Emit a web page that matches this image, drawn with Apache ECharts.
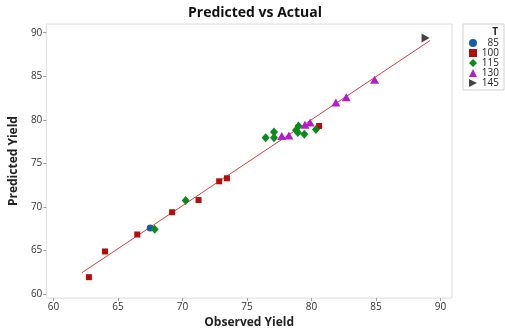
<!DOCTYPE html>
<html>
<head>
<meta charset="utf-8">
<script src="https://cdn.jsdelivr.net/npm/echarts@6/dist/echarts.min.js"></script>
<style>
html, body {margin: 0; padding: 0; background: #fff;}
#chart {width: 505px; height: 334px;}
</style>
</head>
<body>
<div id="chart"></div>
<script>
// groups of T
var groups = ['85', '100', '115', '130', '145'];

var obs85 = [67.5];
var pred85 = [67.6];

var obs100 = [62.75, 64.0, 66.5, 69.2, 71.25, 72.85, 73.45, 80.6];
var pred100 = [61.95, 64.9, 66.85, 69.4, 70.8, 72.95, 73.3, 79.3];

var obs115 = [67.85, 70.25, 76.45, 77.1, 77.1, 78.8, 79.0, 78.95, 79.45, 80.35];
var pred115 = [67.45, 70.75, 77.95, 78.6, 77.95, 78.8, 79.3, 78.55, 78.35, 78.9];

var obs130 = [77.7, 78.25, 79.5, 79.9, 81.9, 82.7, 84.9];
var pred130 = [78.15, 78.2, 79.45, 79.7, 82.0, 82.6, 84.6];

var obs145 = [88.85];
var pred145 = [89.4];

// fitted line end points
var fitX = [62.2, 89.2];
var fitY = [62.45, 89.1];

var xTicks = [60, 65, 70, 75, 80, 85, 90];
var yTicks = [60, 65, 70, 75, 80, 85, 90];

function pairs(xs, ys) {
    return xs.map(function (x, i) { return [x, ys[i]]; });
}

var chart = echarts.init(document.getElementById('chart'));
var font = '"Open Sans", "Noto Sans", sans-serif';
var rightTri = 'path://M0,0 L10,5 L0,10 Z';

option = {
    animation: false,
    textStyle: {fontFamily: font},
    title: {text: 'Predicted vs Actual', left: 250, textAlign: 'center', top: 1,
        textStyle: {fontSize: 14, fontWeight: 'bold', color: '#111', fontFamily: font}},
    grid: {left: 33, right: 53, top: 24, bottom: 30, show: true, borderColor: '#dcdcdc', borderWidth: 1},
    legend: {
        orient: 'vertical', right: 1, top: 24,
        data: groups.map(function (g) { return g === '145' ? {name: g, icon: rightTri} : g; }),
        borderColor: '#d0d0d0', borderWidth: 1, padding: [14, 5, 2, 6],
        itemWidth: 8, itemHeight: 8, itemGap: 0,
        formatter: '{a|{name}}',
        textStyle: {fontSize: 10, color: '#222', fontFamily: font, lineHeight: 10,
            rich: {a: {width: 17, align: 'right', fontSize: 10, lineHeight: 10, color: '#222'}}}
    },
    graphic: [{type: 'text', right: 7, top: 27, style: {text: 'T', font: 'bold 10px ' + font, fill: '#222'}}],
    xAxis: {
        type: 'value', min: 59.45, max: 90.9,
        name: 'Observed Yield', nameLocation: 'middle', nameGap: 18,
        nameTextStyle: {fontSize: 12, fontWeight: 'bold', color: '#222'},
        axisLine: {show: false}, splitLine: {show: false},
        axisTick: {show: true, length: 3, lineStyle: {color: '#999'}, customValues: xTicks},
        axisLabel: {fontSize: 10, color: '#333', margin: 4, customValues: xTicks}
    },
    yAxis: {
        type: 'value', min: 59.55, max: 91.0,
        name: 'Predicted Yield', nameLocation: 'middle', nameGap: 21,
        nameTextStyle: {fontSize: 12, fontWeight: 'bold', color: '#222'},
        axisLine: {show: false}, splitLine: {show: false},
        axisTick: {show: true, length: 3, lineStyle: {color: '#999'}, customValues: yTicks},
        axisLabel: {fontSize: 10, color: '#333', margin: 4, customValues: yTicks}
    },
    series: [
        {name: 'fit', type: 'line', data: pairs(fitX, fitY), symbol: 'none', silent: true,
            lineStyle: {color: '#e0393c', width: 1}, z: 1},
        {name: '85', type: 'scatter', data: pairs(obs85, pred85), symbol: 'circle', symbolSize: 7,
            itemStyle: {color: '#1a5bb0', opacity: 1}},
        {name: '100', type: 'scatter', data: pairs(obs100, pred100), symbol: 'rect', symbolSize: 6,
            itemStyle: {color: '#b50c0c', opacity: 1}},
        {name: '115', type: 'scatter', data: pairs(obs115, pred115), symbol: 'diamond', symbolSize: [8, 9],
            itemStyle: {color: '#0a8a1a', opacity: 1}},
        {name: '130', type: 'scatter', data: pairs(obs130, pred130), symbol: 'triangle', symbolSize: [9, 8],
            itemStyle: {color: '#b31ec8', opacity: 1}},
        {name: '145', type: 'scatter', data: pairs(obs145, pred145), symbol: rightTri, symbolSize: [8, 9],
            itemStyle: {color: '#444', opacity: 1}}
    ]
};

chart.setOption(option);
</script>
</body>
</html>
